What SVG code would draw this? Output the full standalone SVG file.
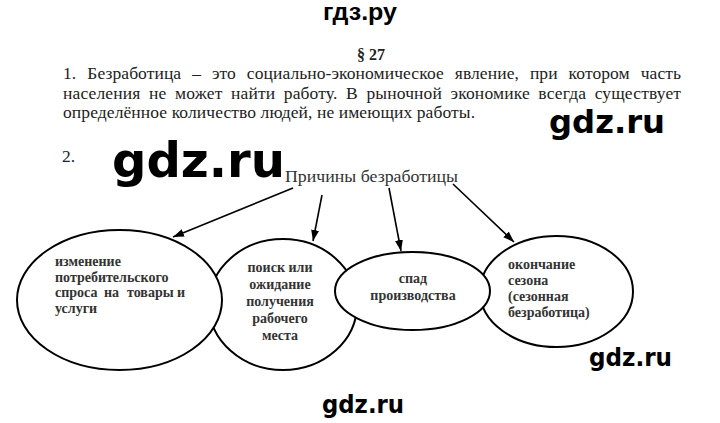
<svg xmlns="http://www.w3.org/2000/svg" width="720" height="423" viewBox="0 0 720 423">
<style>
.wm{font-family:'DejaVu Sans','Liberation Sans',sans-serif;font-weight:bold;fill:#000}
.hd{font-family:'Liberation Sans',Arial,sans-serif;font-weight:bold;fill:#000}
.p{font-family:'Liberation Serif','Times New Roman','DejaVu Serif',serif;font-size:17.5px;fill:#222}
.t{font-family:'Liberation Serif','Times New Roman','DejaVu Serif',serif;font-size:17.5px;fill:#333}
.n{font-family:'Liberation Serif','Times New Roman','DejaVu Serif',serif;font-size:14px;font-weight:bold;fill:#333}
.e{fill:#fff;stroke:#000;stroke-width:2}
.c{stroke:#000;stroke-width:1.6;fill:none}
</style>
<defs>
<marker id="ah" markerUnits="userSpaceOnUse" markerWidth="11" markerHeight="8" refX="11" refY="4" orient="auto">
<path d="M0,0 L11,4 L0,8 z" fill="#000"/>
</marker>
</defs>
<rect width="720" height="423" fill="#fff"/>
<text class="hd" x="323" y="20" font-size="23" textLength="74" lengthAdjust="spacingAndGlyphs">гдз.ру</text>
<text x="357" y="60" font-family="'Liberation Serif',serif" font-size="16" font-weight="bold" fill="#222">§ 27</text>
<text class="p" x="63" y="79" word-spacing="6.5" textLength="618" lengthAdjust="spacing">1. Безработица – это социально-экономическое явление, при котором часть</text>
<text class="p" x="63" y="99" word-spacing="4" textLength="618" lengthAdjust="spacing">населения не может найти работу. В рыночной экономике всегда существует</text>
<text class="p" x="63" y="118" textLength="412" lengthAdjust="spacing">определённое количество людей, не имеющих работы.</text>
<text class="p" x="62" y="162" fill="#444">2.</text>
<g id="connectors">
<line class="c" x1="293" y1="188" x2="173" y2="237" marker-end="url(#ah)"/>
<line class="c" x1="322" y1="195" x2="313" y2="241" marker-end="url(#ah)"/>
<line class="c" x1="389" y1="188" x2="401" y2="251" marker-end="url(#ah)"/>
<line class="c" x1="453" y1="184" x2="514" y2="242" marker-end="url(#ah)"/>
</g>
<g id="title"><text class="t" x="285" y="182" textLength="173" lengthAdjust="spacingAndGlyphs">Причины безработицы</text></g>
<g id="node2">
<ellipse class="e" cx="283" cy="304.5" rx="74" ry="65.5"/>
<text class="n" text-anchor="middle"><tspan x="280" y="272">поиск или</tspan><tspan x="280" y="289">ожидание</tspan><tspan x="280" y="306">получения</tspan><tspan x="280" y="323">рабочего</tspan><tspan x="280" y="340">места</tspan></text>
</g>
<g id="node4">
<ellipse class="e" cx="556.5" cy="291.5" rx="76.5" ry="55.5"/>
<text class="n"><tspan x="508" y="269">окончание</tspan><tspan x="508" y="285">сезона</tspan><tspan x="508" y="301">(сезонная</tspan><tspan x="508" y="317">безработица)</tspan></text>
</g>
<g id="node1">
<ellipse class="e" cx="119.5" cy="300" rx="102.5" ry="70"/>
<text class="n"><tspan x="55" y="266">изменение</tspan><tspan x="55" y="281.5">потребительского</tspan><tspan x="55" y="297">спроса</tspan><tspan x="104" y="297">на</tspan><tspan x="127" y="297">товары</tspan><tspan x="185" y="297" text-anchor="end">и</tspan><tspan x="55" y="312.5">услуги</tspan></text>
</g>
<g id="node3">
<ellipse class="e" cx="412.5" cy="291" rx="77.5" ry="39"/>
<text class="n" text-anchor="middle"><tspan x="413" y="283">спад</tspan><tspan x="413" y="300">производства</tspan></text>
</g>
<text class="wm" x="112" y="177" font-size="48" textLength="173" lengthAdjust="spacingAndGlyphs">gdz.ru</text>
<text class="wm" x="549" y="133" font-size="32" textLength="116" lengthAdjust="spacingAndGlyphs">gdz.ru</text>
<text class="wm" x="589" y="366" font-size="25" textLength="83" lengthAdjust="spacingAndGlyphs">gdz.ru</text>
<text class="wm" x="322" y="413" font-size="25" textLength="82" lengthAdjust="spacingAndGlyphs">gdz.ru</text>
</svg>
